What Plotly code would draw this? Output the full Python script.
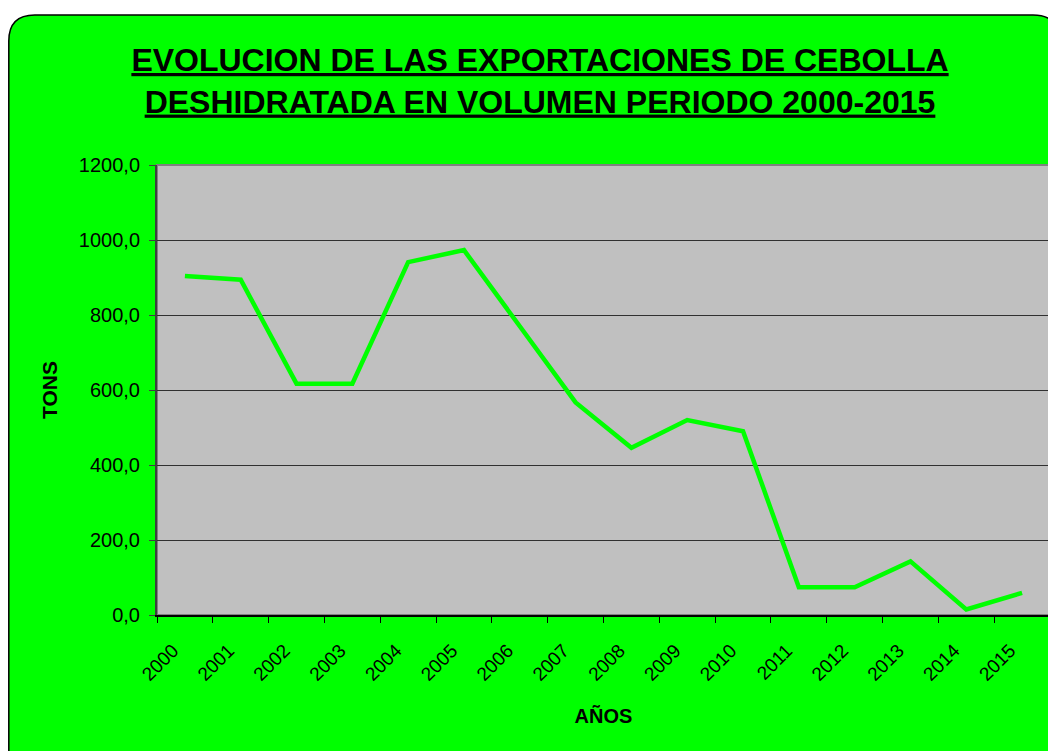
import plotly.graph_objects as go

years = [str(y) for y in range(2000, 2016)]
tons = [904, 894, 617, 617, 941, 973, 770, 567, 446, 520, 490, 74, 74, 143, 15, 59]
y_ticks = [0, 200, 400, 600, 800, 1000, 1200]
y_ticktext = ["0,0", "200,0", "400,0", "600,0", "800,0", "1000,0", "1200,0"]

# the page body has an 8px margin, so the figure starts at screen (8, 8)
W, H = 1048, 743
L, R, T, B = 149, 6, 157, 136
pw, ph = W - L - R, H - T - B

def px(x):
    return (x - L) / pw

def py(y):
    return (H - B - y) / ph

# rounded green frame (pixel geometry converted to paper units)
x0, x1, y0, y1, r = 0.8, 1051, 7, 770, 26
path = (
    f"M {px(x0)},{py(y0 + r)} "
    f"Q {px(x0)},{py(y0)} {px(x0 + r)},{py(y0)} "
    f"L {px(x1 - r)},{py(y0)} "
    f"Q {px(x1)},{py(y0)} {px(x1)},{py(y0 + r)} "
    f"L {px(x1)},{py(y1 - r)} "
    f"Q {px(x1)},{py(y1)} {px(x1 - r)},{py(y1)} "
    f"L {px(x0 + r)},{py(y1)} "
    f"Q {px(x0)},{py(y1)} {px(x0)},{py(y1 - r)} Z"
)

fig = go.Figure()
fig.add_trace(go.Scatter(
    x=years, y=tons, mode="lines",
    line=dict(color="#00FF00", width=4.5),
    showlegend=False,
))

fig.update_layout(
    width=W, height=H,
    margin=dict(l=L, r=R, t=T, b=B),
    paper_bgcolor="white",
    plot_bgcolor="rgba(0,0,0,0)",
    font=dict(family="Liberation Sans, Arial, sans-serif", color="black"),
    title=dict(
        text="<b><u>EVOLUCION DE LAS EXPORTACIONES DE CEBOLLA</u></b><br>"
             "<b><u>DESHIDRATADA EN VOLUMEN PERIODO 2000-2015</u></b>",
        x=532 / W, xanchor="center", xref="container",
        y=1 - 63 / H, yanchor="top", yref="container",
        font=dict(size=32, color="black"),
    ),
    shapes=[
        dict(type="path", xref="paper", yref="paper", path=path,
             fillcolor="#00FF00", line=dict(color="black", width=1.5), layer="below"),
        dict(type="rect", xref="paper", yref="paper", x0=0, x1=1, y0=0, y1=1,
             fillcolor="#C0C0C0", line=dict(color="#808080", width=2), layer="below"),
    ],
    xaxis=dict(
        type="category",
        range=[-0.5, len(years) - 0.5],
        tickangle=-45,
        tickson="boundaries",
        ticks="outside", ticklen=6, tickcolor="black",
        showline=True, linecolor="black", linewidth=2,
        showgrid=False,
        tickfont=dict(size=19),
        ticklabelshift=-12, ticklabelstandoff=15,
        title=dict(text="<b>AÑOS</b>", font=dict(size=20), standoff=25),
    ),
    yaxis=dict(
        range=[0, 1200],
        tickvals=y_ticks, ticktext=y_ticktext,
        ticks="outside", ticklen=6, tickcolor="#404040",
        showline=True, linecolor="#404040", linewidth=2,
        showgrid=True, gridcolor="#303030", gridwidth=1,
        zeroline=False,
        tickfont=dict(size=20),
        ticklabelstandoff=5,
        title=dict(text="<b>TONS</b>", font=dict(size=21), standoff=15),
    ),
)

fig.write_html("out.html")
